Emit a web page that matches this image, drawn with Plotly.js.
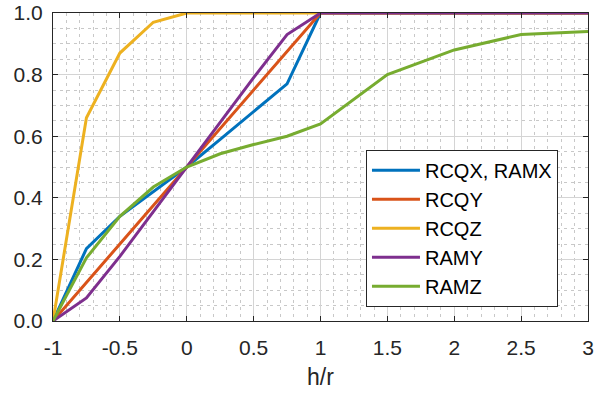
<!DOCTYPE html>
<html>
<head>
<meta charset="utf-8">
<script src="https://cdn.plot.ly/plotly-3.0.1.min.js"></script>
<style>html,body{margin:0;padding:0;background:#fff;}#chart{width:595px;height:394px;}</style>
</head>
<body>
<div id="chart"></div>
<script>
const hr = [-1, -0.75, -0.5, -0.25, 0, 0.25, 0.5, 0.75, 1, 1.5, 2, 2.5, 3];
const rcqxRamx = [0, 0.235, 0.34, 0.42, 0.5, 0.59, 0.68, 0.77, 1, 1, 1, 1, 1];
const rcqy = [0, 0.125, 0.25, 0.375, 0.5, 0.625, 0.75, 0.875, 1, 1, 1, 1, 1];
const rcqz = [0, 0.66, 0.87, 0.97, 1, 1, 1, 1, 1, 1, 1, 1, 1];
const ramy = [0, 0.075, 0.21, 0.355, 0.5, 0.645, 0.79, 0.93, 1, 1, 1, 1, 1];
const ramz = [0, 0.205, 0.34, 0.435, 0.5, 0.543, 0.573, 0.6, 0.64, 0.8, 0.88, 0.93, 0.94];
const seriesNames = ['RCQX, RAMX', 'RCQY', 'RCQZ', 'RAMY', 'RAMZ'];
const seriesValues = [rcqxRamx, rcqy, rcqz, ramy, ramz];
const seriesColors = ['#0072BD', '#D95319', '#EDB120', '#7E2F8E', '#77AC30'];
const xTickVals = [-1, -0.5, 0, 0.5, 1, 1.5, 2, 2.5, 3];
const xTickText = ['-1', '-0.5', '0', '0.5', '1', '1.5', '2', '2.5', '3'];
const yTickVals = [0, 0.2, 0.4, 0.6, 0.8, 1.0];
const yTickText = ['0.0', '0.2', '0.4', '0.6', '0.8', '1.0'];
const xLabel = 'h/r';

const FONT = '"Liberation Sans", Arial, Helvetica, sans-serif';
const traces = seriesNames.map((n, i) => ({
  x: hr, y: seriesValues[i], name: n, type: 'scatter', mode: 'lines',
  line: {color: seriesColors[i], width: 3}
}));

const axisCommon = {
  showline: true, linecolor: '#262626', linewidth: 1, mirror: 'ticks',
  ticks: 'inside', ticklen: 5, tickcolor: '#262626', tickwidth: 1,
  showgrid: true, gridcolor: '#d4d4d4', gridwidth: 1, zeroline: false,
  tickfont: {family: FONT, size: 21, color: '#262626'},
  minor: {showgrid: true, gridcolor: '#c8c8c8', griddash: '3px,4px', gridwidth: 1, ticks: ''}
};

const layout = {
  width: 595, height: 394,
  margin: {l: 53, r: 7, t: 13, b: 73},
  paper_bgcolor: '#fff', plot_bgcolor: '#fff',
  font: {family: FONT, color: '#262626'},
  showlegend: true,
  xaxis: Object.assign({}, axisCommon, {
    range: [-1, 3], tickmode: 'array', tickvals: xTickVals, ticktext: xTickText,
    minor: Object.assign({}, axisCommon.minor, {dtick: 0.1, tick0: 0}),
    ticklabelstandoff: 8,
    title: {text: xLabel, font: {family: FONT, size: 23, color: '#262626'}, standoff: 10}
  }),
  yaxis: Object.assign({}, axisCommon, {
    range: [0, 1], tickmode: 'array', tickvals: yTickVals, ticktext: yTickText,
    minor: Object.assign({}, axisCommon.minor, {dtick: 0.05, tick0: 0}),
    ticklabelstandoff: 5
  }),
  legend: {
    x: 0.585, y: 0.556, xanchor: 'left', yanchor: 'top',
    bgcolor: '#fff', bordercolor: '#262626', borderwidth: 1,
    font: {family: FONT, size: 20, color: '#000'},
    tracegroupgap: 0, itemwidth: 48
  }
};

Plotly.newPlot('chart', traces, layout, {displayModeBar: false, staticPlot: true});
</script>
</body>
</html>
